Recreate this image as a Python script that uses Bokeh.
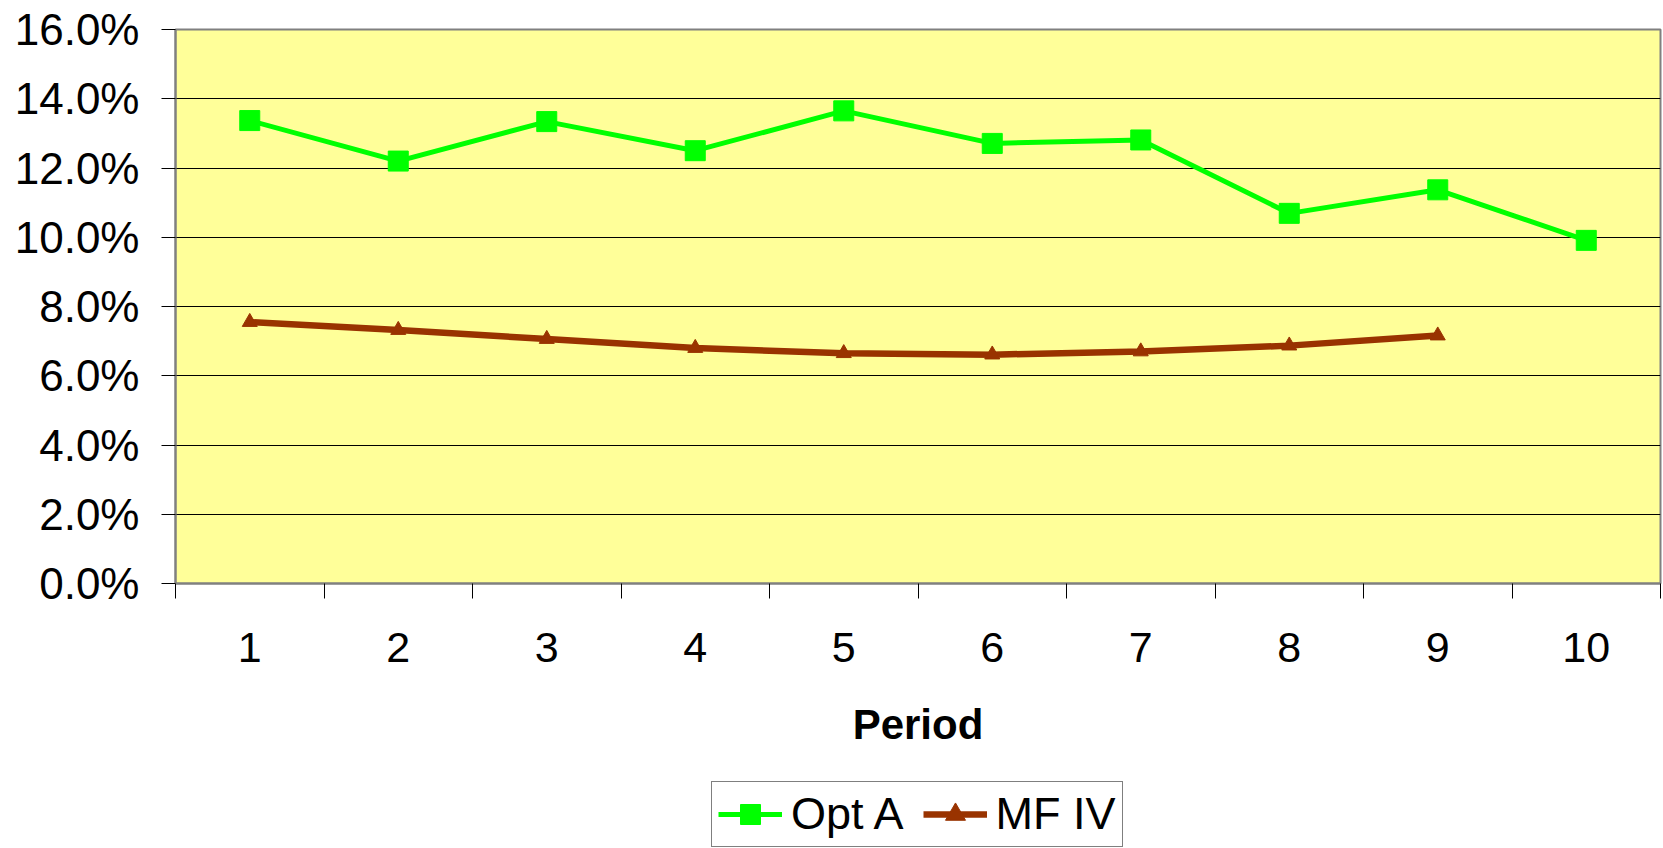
from bokeh.plotting import figure
from bokeh.layouts import column
from bokeh.models import (Range1d, FixedTicker, NumeralTickFormatter, Legend,
                          LegendItem, CustomJSTickFormatter)
from bokeh.embed import file_html
from bokeh.resources import INLINE

# Period numbers and the two series (values as fractions)
periods = [1, 2, 3, 4, 5, 6, 7, 8, 9, 10]
opt_a = [0.1337, 0.1220, 0.1334, 0.1250, 0.1365, 0.1271, 0.1281, 0.1069, 0.1137, 0.0991]
mf_periods = [1, 2, 3, 4, 5, 6, 7, 8, 9]
mf_iv = [0.0755, 0.0732, 0.0706, 0.0680, 0.0665, 0.0661, 0.0670, 0.0687, 0.0716]
y_ticks = [0.0, 0.02, 0.04, 0.06, 0.08, 0.10, 0.12, 0.14, 0.16]
series_names = ["Opt A", "MF IV"]

FONT = "Liberation Sans"
GREEN = "#00FF00"
BROWN = "#993300"


def add_series(fig):
    """Draw both series on a figure; returns the renderers for a legend."""
    a_l = fig.line(periods, opt_a, line_color=GREEN, line_width=5)
    a_s = fig.scatter(periods, opt_a, marker="square", size=20,
                      fill_color=GREEN, line_color=GREEN)
    m_l = fig.line(mf_periods, mf_iv, line_color=BROWN, line_width=6.5)
    m_s = fig.scatter(mf_periods, mf_iv, marker="triangle", size=15,
                      fill_color=BROWN, line_color=BROWN)
    return [a_l, a_s], [m_l, m_s]


# ---- main chart -------------------------------------------------------
p = figure(width=1663, height=770, output_backend="svg", toolbar_location=None,
           x_range=Range1d(0.5, 10.5), y_range=Range1d(0.0, 0.16),
           min_border_left=175, min_border_right=3, min_border_top=29,
           min_border_bottom=187)
p.border_fill_color = "#FFFFFF"
p.background_fill_color = "#FFFF99"
p.outline_line_color = "#808080"
p.outline_line_width = 2

# y axis: percent ticks every 2%
ya = p.yaxis[0]
ya.ticker = FixedTicker(ticks=y_ticks)
ya.formatter = NumeralTickFormatter(format="0.0%")
ya.major_label_text_font = FONT
ya.major_label_text_font_size = "44px"
ya.major_label_text_color = "#000000"
ya.major_tick_in = 0
ya.major_tick_out = 14
ya.major_tick_line_color = "#000000"
ya.minor_tick_line_color = None
ya.axis_line_color = "#808080"
ya.axis_line_width = 2
ya.major_label_standoff = 22

# x axis: labels at category centres, tick marks at category boundaries
xa = p.xaxis[0]
xa.ticker = FixedTicker(ticks=periods, minor_ticks=[x - 0.5 for x in periods] + [10.5])
xa.formatter = CustomJSTickFormatter(code="return String(Math.round(tick));")
xa.major_label_text_font = FONT
xa.major_label_text_font_size = "43px"
xa.major_label_text_color = "#000000"
xa.major_tick_line_color = None
xa.major_tick_in = 0
xa.major_tick_out = 15
xa.minor_tick_in = 0
xa.minor_tick_out = 15
xa.minor_tick_line_color = "#000000"
xa.axis_line_color = "#808080"
xa.axis_line_width = 2
xa.major_label_standoff = 34
xa.axis_label = "Period"
xa.axis_label_text_font = FONT
xa.axis_label_text_font_size = "42px"
xa.axis_label_text_font_style = "bold"
xa.axis_label_text_color = "#000000"
xa.axis_label_standoff = 36

p.xgrid.grid_line_color = None
p.ygrid.grid_line_color = "#000000"
p.ygrid.grid_line_width = 1

add_series(p)

# ---- legend strip under the chart ------------------------------------
# Its ranges lie away from the data, so only the legend keys show here.
leg = figure(width=1663, height=78, output_backend="svg", toolbar_location=None,
             x_range=Range1d(100, 101), y_range=Range1d(100, 101),
             x_axis_type=None, y_axis_type=None,
             min_border_left=0, min_border_right=0, min_border_top=0,
             min_border_bottom=0)
leg.outline_line_color = None
leg.xgrid.grid_line_color = None
leg.ygrid.grid_line_color = None
leg.border_fill_color = "#FFFFFF"
leg.background_fill_color = "#FFFFFF"

a_keys, m_keys = add_series(leg)

legend = Legend(items=[LegendItem(label=series_names[0], renderers=a_keys),
                       LegendItem(label=series_names[1], renderers=m_keys)],
                location=(536, 1), orientation="horizontal",
                label_text_font=FONT, label_text_font_size="45px",
                label_text_color="#000000",
                glyph_width=64, glyph_height=50, label_standoff=9,
                spacing=19, padding=6, margin=0,
                border_line_color="#000000", border_line_width=1,
                background_fill_color="#FFFFFF", background_fill_alpha=1.0)
leg.add_layout(legend, "center")

layout = column(p, leg, spacing=0)
open("out.html", "w").write(file_html(layout, INLINE))
